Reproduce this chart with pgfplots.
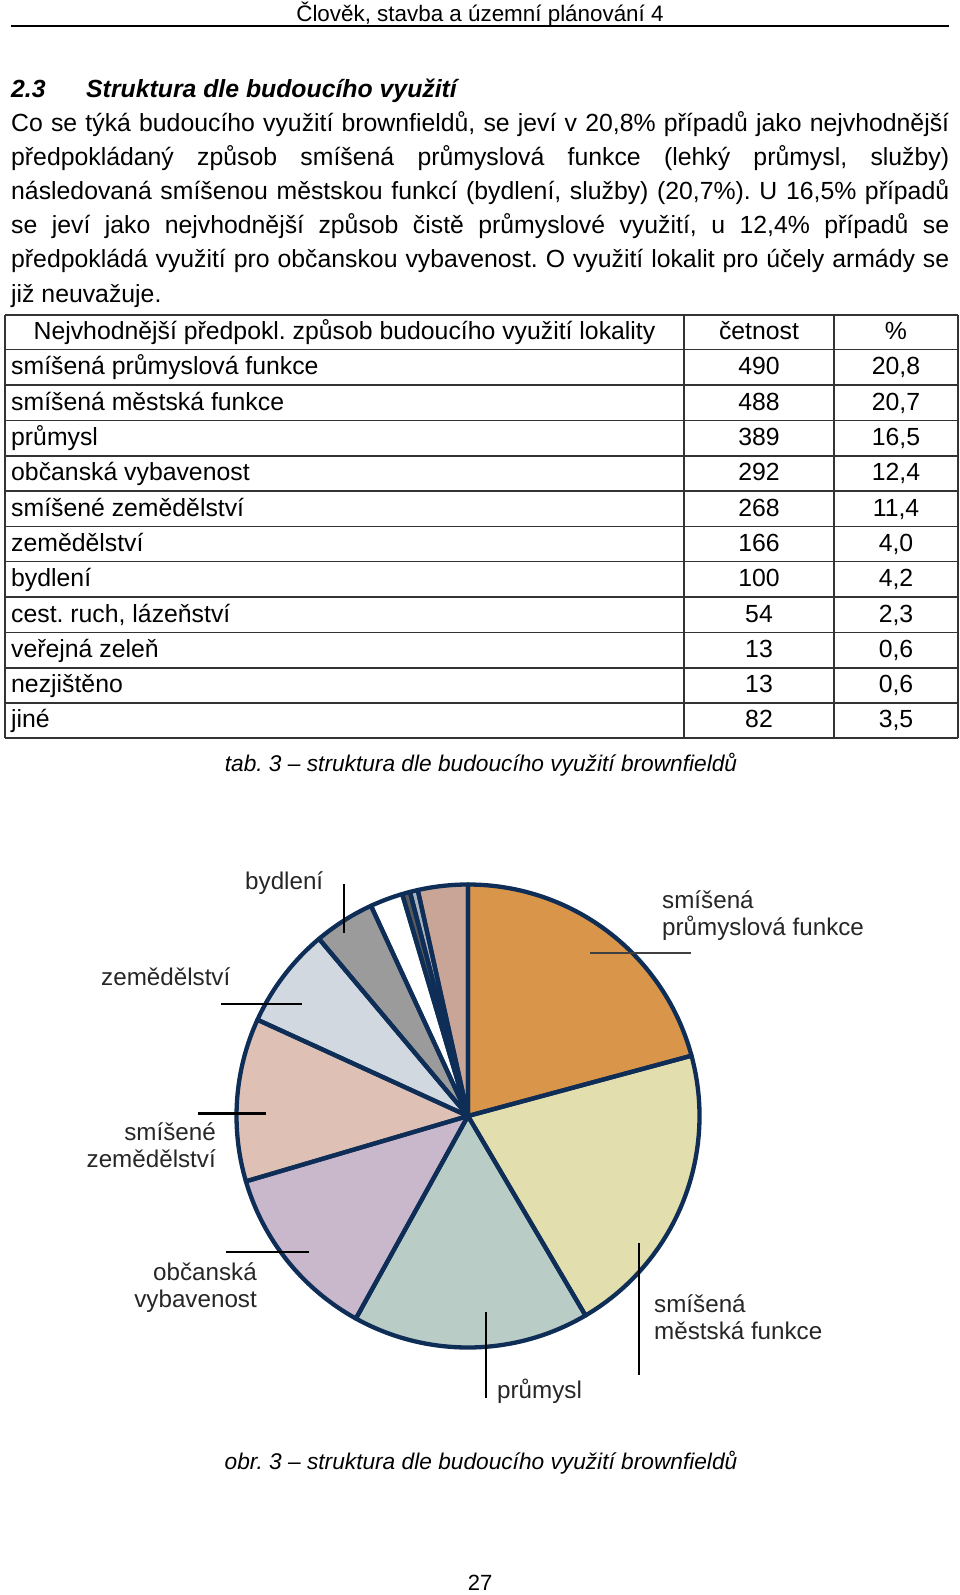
\documentclass[border=0pt]{standalone}
\usepackage{pgfplots}
\pgfplotsset{compat=1.18}
\usepackage{pgfplotstable}
\usepackage{fontspec}
\setmainfont{Liberation Sans}
\frenchspacing
\definecolor{pieedge}{HTML}{0F2E57}
\definecolor{cA}{HTML}{D9964B}
\definecolor{cB}{HTML}{E3DEAD}
\definecolor{cC}{HTML}{B9CCC5}
\definecolor{cD}{HTML}{C9B8CB}
\definecolor{cE}{HTML}{DEC1B4}
\definecolor{cF}{HTML}{D1D8E0}
\definecolor{cG}{HTML}{9B9B9B}
\definecolor{cH}{HTML}{FFFFFF}
\definecolor{cI}{HTML}{5A5A5A}
\definecolor{cJ}{HTML}{AAB3C0}
\definecolor{cK}{HTML}{C9A597}
\definecolor{labtxt}{HTML}{262626}
\definecolor{rule}{HTML}{333333}

\pgfplotstableread{
count col
490 cA
488 cB
389 cC
292 cD
268 cE
166 cF
100 cG
54 cH
13 cI
13 cJ
82 cK
}\piedata

\newcommand{\fs}[2]{\fontsize{#1pt}{#2pt}\selectfont}

\begin{document}
\frenchspacing
\begin{tikzpicture}
\useasboundingbox (0pt,0pt) rectangle (960pt,-1595pt);
\begin{scope}[x=1pt,y=-1pt]
% header
\node[anchor=base, inner sep=0] at (480,22) {\fs{22.4}{26}Člověk, stavba a územní plánování 4};
\draw[line width=1.6pt, black] (11,26) -- (949,26);
% heading
\node[anchor=base west, inner sep=0] at (11,97.5) {\fs{24.8}{30}\bfseries\itshape 2.3};
\node[anchor=base west, inner sep=0] at (86,97.5) {\fs{24.8}{30}\bfseries\itshape Struktura dle budoucího využití};
% paragraph
\node[anchor=base west, inner sep=0] at (11,131) {\fs{24.8}{30}\makebox[938pt][s]{Co se týká budoucího využití brownfieldů, se jeví v 20,8\% případů jako nejvhodnější}};
\node[anchor=base west, inner sep=0] at (11,165.2) {\fs{24.8}{30}\makebox[938pt][s]{předpokládaný způsob smíšená průmyslová funkce (lehký průmysl, služby)}};
\node[anchor=base west, inner sep=0] at (11,199.4) {\fs{24.8}{30}\makebox[938pt][s]{následovaná smíšenou městskou funkcí (bydlení, služby) (20,7\%). U 16,5\% případů}};
\node[anchor=base west, inner sep=0] at (11,233.6) {\fs{24.8}{30}\makebox[938pt][s]{se jeví jako nejvhodnější způsob čistě průmyslové využití, u 12,4\% případů se}};
\node[anchor=base west, inner sep=0] at (11,267.8) {\fs{24.8}{30}\makebox[938pt][s]{předpokládá využití pro občanskou vybavenost. O využití lokalit pro účely armády se}};
\node[anchor=base west, inner sep=0] at (11,302) {\fs{24.8}{30}již neuvažuje.};
% table grid
\foreach \yy in {314.7,349.3,385,420.3,455.7,491,526.3,561.3,597,632.3,667.7,702.7,737.7}
  \draw[line width=1.6pt, rule] (5,\yy) -- (958,\yy);
\foreach \xx in {5,684,834,958}
  \draw[line width=1.6pt, rule] (\xx,314.7) -- (\xx,737.7);
% table header
\node[anchor=base, inner sep=0] at (344.5,339) {\fs{24.8}{30}Nejvhodnější předpokl. způsob budoucího využití lokality};
\node[anchor=base, inner sep=0] at (759,339) {\fs{24.8}{30}četnost};
\node[anchor=base, inner sep=0] at (896,339) {\fs{24.8}{30}\%};
% table rows
\foreach \yc/\name/\cnt/\pct in {
  367.2/smíšená průmyslová funkce/490/{20,8},
  402.7/smíšená městská funkce/488/{20,7},
  438.0/průmysl/389/{16,5},
  473.4/občanská vybavenost/292/{12,4},
  508.7/smíšené zemědělství/268/{11,4},
  543.8/zemědělství/166/{4,0},
  579.2/bydlení/100/{4,2},
  614.7/{cest. ruch, lázeňství}/54/{2,3},
  650.0/veřejná zeleň/13/{0,6},
  685.2/nezjištěno/13/{0,6},
  720.2/jiné/82/{3,5}}{
  \node[anchor=base west, inner sep=0] at (11,\yc+7.5) {\fs{24.8}{30}\name};
  \node[anchor=base, inner sep=0] at (759,\yc+7.5) {\fs{24.8}{30}\cnt};
  \node[anchor=base, inner sep=0] at (896,\yc+7.5) {\fs{24.8}{30}\pct};
}
% table caption
\node[anchor=base, inner sep=0] at (481,771) {\fs{22.7}{28}\itshape tab. 3 – struktura dle budoucího využití brownfieldů};
% pie labels
\begin{scope}[labtxt]
\node[anchor=base west, inner sep=0] at (245,889) {\fs{24.2}{27}bydlení};
\node[anchor=base west, inner sep=0] at (662,908) {\fs{24.2}{27}smíšená};
\node[anchor=base west, inner sep=0] at (662,935) {\fs{24.2}{27}průmyslová funkce};
\node[anchor=base west, inner sep=0] at (101,985) {\fs{24.2}{27}zemědělství};
\node[anchor=base east, inner sep=0] at (216,1140) {\fs{24.2}{27}smíšené};
\node[anchor=base east, inner sep=0] at (216,1167) {\fs{24.2}{27}zemědělství};
\node[anchor=base east, inner sep=0] at (257,1280) {\fs{24.2}{27}občanská};
\node[anchor=base east, inner sep=0] at (257,1307) {\fs{24.2}{27}vybavenost};
\node[anchor=base west, inner sep=0] at (654,1312) {\fs{24.2}{27}smíšená};
\node[anchor=base west, inner sep=0] at (654,1339) {\fs{24.2}{27}městská funkce};
\node[anchor=base west, inner sep=0] at (497,1398) {\fs{24.2}{27}průmysl};
\end{scope}
% figure caption and page number
\node[anchor=base, inner sep=0] at (481,1469) {\fs{22.7}{28}\itshape obr. 3 – struktura dle budoucího využití brownfieldů};
\node[anchor=base, inner sep=0] at (480,1590) {\fs{22}{26}27};
\end{scope}

\begin{axis}[
  at={(468pt,-1116pt)}, anchor=origin,
  x=231.5pt, y=231.5pt,
  xmin=-1, xmax=1, ymin=-1, ymax=1,
  hide axis, clip=false,
]
\pgfplotstablegetrowsof{\piedata}
\pgfmathtruncatemacro\nrows{\pgfplotsretval-1}
% total
\def\tot{0}
\pgfplotsforeachungrouped \i in {0,...,\nrows} {
  \pgfplotstablegetelem{\i}{count}\of\piedata
  \pgfmathsetmacro\tot{\tot+\pgfplotsretval}
}
% fills
\def\cum{0}
\pgfplotsforeachungrouped \i in {0,...,\nrows} {
  \pgfplotstablegetelem{\i}{count}\of\piedata \let\v\pgfplotsretval
  \pgfplotstablegetelem{\i}{col}\of\piedata \let\c\pgfplotsretval
  \pgfmathsetmacro\a{90-\cum/\tot*360}
  \pgfmathsetmacro\cum{\cum+\v}
  \pgfmathsetmacro\b{90-\cum/\tot*360}
  \edef\temp{\noexpand\fill[fill=\c] (axis cs:0,0) -- (axis cs:{cos(\a)},{sin(\a)}) arc[start angle=\a, end angle=\b, radius=231.5pt] -- cycle;}
  \temp
}
% borders
\def\cum{0}
\pgfplotsforeachungrouped \i in {0,...,\nrows} {
  \pgfplotstablegetelem{\i}{count}\of\piedata \let\v\pgfplotsretval
  \pgfmathsetmacro\a{90-\cum/\tot*360}
  \pgfmathsetmacro\cum{\cum+\v}
  \pgfmathsetmacro\b{90-\cum/\tot*360}
  \edef\temp{\noexpand\draw[draw=pieedge, line width=4.3pt, line join=round] (axis cs:0,0) -- (axis cs:{cos(\a)},{sin(\a)}) arc[start angle=\a, end angle=\b, radius=231.5pt] -- cycle;}
  \temp
}
\end{axis}

% leader lines
\begin{scope}[x=1pt,y=-1pt]
\draw[line width=1.2pt, black!75] (590,953) -- (691,953);
\draw[line width=2.8pt, black] (344,884) -- (344,933);
\draw[line width=2.8pt, black] (221,1004) -- (302,1004);
\draw[line width=2.8pt, black] (198,1113.5) -- (266,1113.5);
\draw[line width=2.8pt, black] (226,1252) -- (309,1252);
\draw[line width=2.8pt, black] (639,1243) -- (639,1375);
\draw[line width=2.8pt, black] (486,1312) -- (486,1398);
\end{scope}
\end{tikzpicture}
\end{document}
